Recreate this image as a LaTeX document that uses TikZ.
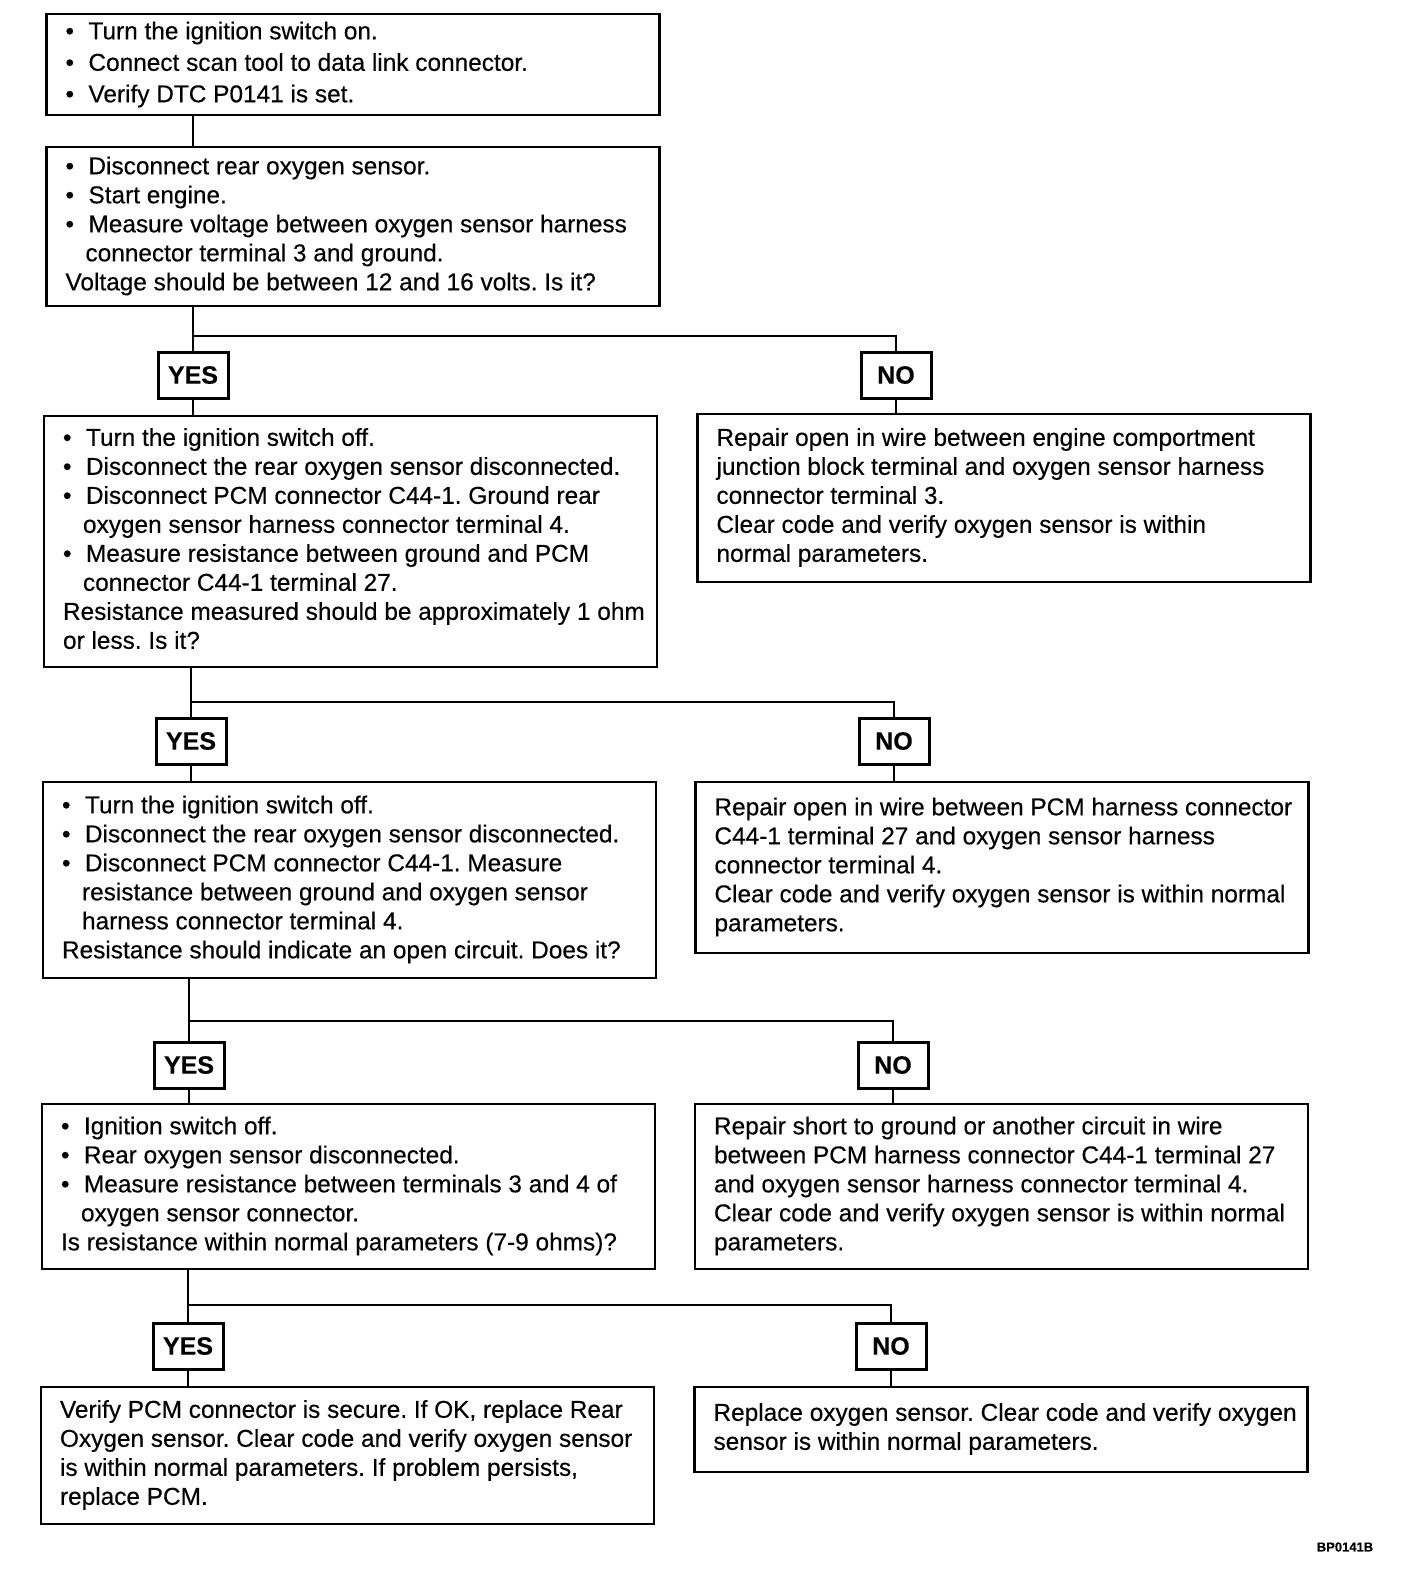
\documentclass[tikz,border=0pt]{standalone}
\usepackage{fontspec}
\setmainfont{Liberation Sans}[FakeBold=0.35]
\frenchspacing
\newcommand{\bu}{\makebox[11.5pt][l]{\textbullet}}
\newcommand{\ci}{\hspace*{10pt}}
\newcommand{\bx}[2][0pt]{\makebox[287.5pt][l]{\begin{tabular}{@{}l@{}}\rule{0pt}{\dimexpr0.7\baselineskip+#1\relax}#2\end{tabular}}}
\begin{document}
\begin{tikzpicture}[x=0.5pt,y=-0.5pt,
  box/.style={draw, line width=1.4pt, inner xsep=9.5pt, inner ysep=0pt,
    minimum width=306.5pt, align=left,
    font=\fontsize{12.2}{14.5}\selectfont},
  lab/.style={draw, line width=1.5pt, minimum width=35pt, minimum height=23pt,
    inner sep=0pt, font=\fontsize{12.5}{14}\selectfont\bfseries},
  conn/.style={line width=1.4pt}]
\useasboundingbox (0,0) rectangle (1408,1570);

% main column
\node[box, minimum height=50.5pt, font=\fontsize{12.2}{15.75}\selectfont] (b1) at (353,64.5)
 {\bx[2pt]{\bu Turn the ignition switch on.\\
  \bu Connect scan tool to data link connector.\\
  \bu Verify DTC P0141 is set.}};
\node[box, minimum height=79.5pt] (b2) at (353,226.5)
 {\bx[1pt]{\bu Disconnect rear oxygen sensor.\\
  \bu Start engine.\\
  \bu Measure voltage between oxygen sensor harness\\
  \ci connector terminal 3 and ground.\\
  Voltage should be between 12 and 16 volts. Is it?}};
\node[box, minimum height=125.5pt] (b3) at (350.5,541.5)
 {\bx[1pt]{\bu Turn the ignition switch off.\\
  \bu Disconnect the rear oxygen sensor disconnected.\\
  \bu Disconnect PCM connector C44-1. Ground rear\\
  \ci oxygen sensor harness connector terminal 4.\\
  \bu Measure resistance between ground and PCM\\
  \ci connector C44-1 terminal 27.\\
  Resistance measured should be approximately 1 ohm\\
  or less. Is it?}};
\node[box, minimum height=98pt] (b4) at (349.5,880)
 {\bx[1.5pt]{\bu Turn the ignition switch off.\\
  \bu Disconnect the rear oxygen sensor disconnected.\\
  \bu Disconnect PCM connector C44-1. Measure\\
  \ci resistance between ground and oxygen sensor\\
  \ci harness connector terminal 4.\\
  Resistance should indicate an open circuit. Does it?}};
\node[box, minimum height=82.5pt] (b5) at (348.5,1186.5)
 {\bx[2pt]{\bu Ignition switch off.\\
  \bu Rear oxygen sensor disconnected.\\
  \bu Measure resistance between terminals 3 and 4 of\\
  \ci oxygen sensor connector.\\
  Is resistance within normal parameters (7-9 ohms)?}};
\node[box, minimum height=68.5pt] (b6) at (347.5,1455.5)
 {\bx[5pt]{Verify PCM connector is secure. If OK, replace Rear\\
  Oxygen sensor. Clear code and verify oxygen sensor\\
  is within normal parameters. If problem persists,\\
  replace PCM.}};

% NO results
\node[box, minimum height=84pt] (n1) at (1004,498)
 {\bx[1.5pt]{Repair open in wire between engine comportment\\
  junction block terminal and oxygen sensor harness\\
  connector terminal 3.\\
  Clear code and verify oxygen sensor is within\\
  normal parameters.}};
\node[box, minimum height=85.5pt] (n2) at (1002,867.5)
 {\bx[2pt]{Repair open in wire between PCM harness connector\\
  C44-1 terminal 27 and oxygen sensor harness\\
  connector terminal 4.\\
  Clear code and verify oxygen sensor is within normal\\
  parameters.}};
\node[box, minimum height=82.5pt] (n3) at (1001.5,1186.5)
 {\bx[5pt]{Repair short to ground or another circuit in wire\\
  between PCM harness connector C44-1 terminal 27\\
  and oxygen sensor harness connector terminal 4.\\
  Clear code and verify oxygen sensor is within normal\\
  parameters.}};
\node[box, minimum height=42.5pt] (n4) at (1001,1429.5)
 {\bx[2pt]{Replace oxygen sensor. Clear code and verify oxygen\\
  sensor is within normal parameters.}};

% YES / NO labels
\node[lab] (y1) at (193,375) {YES};
\node[lab] (o1) at (896,375) {NO};
\node[lab] (y2) at (191,741) {YES};
\node[lab] (o2) at (894,741) {NO};
\node[lab] (y3) at (189,1065) {YES};
\node[lab] (o3) at (893,1065) {NO};
\node[lab] (y4) at (188,1346) {YES};
\node[lab] (o4) at (891,1346) {NO};

\coordinate (j1) at (193,336);
\coordinate (j2) at (191,702);
\coordinate (j3) at (189,1021);
\coordinate (j4) at (188,1305);

% connectors
\draw[conn] (b1.south -| y1) -- (b2.north -| y1);
\draw[conn] (b2.south -| y1) -- (y1.north);
\draw[conn] (j1) -| (o1.north);
\draw[conn] (y1.south) -- (b3.north -| y1);
\draw[conn] (o1.south) -- (n1.north -| o1);

\draw[conn] (b3.south -| y2) -- (y2.north);
\draw[conn] (j2) -| (o2.north);
\draw[conn] (y2.south) -- (b4.north -| y2);
\draw[conn] (o2.south) -- (n2.north -| o2);

\draw[conn] (b4.south -| y3) -- (y3.north);
\draw[conn] (j3) -| (o3.north);
\draw[conn] (y3.south) -- (b5.north -| y3);
\draw[conn] (o3.south) -- (n3.north -| o3);

\draw[conn] (b5.south -| y4) -- (y4.north);
\draw[conn] (j4) -| (o4.north);
\draw[conn] (y4.south) -- (b6.north -| y4);
\draw[conn] (o4.south) -- (n4.north -| o4);

\node[font=\fontsize{6.5}{7}\selectfont\bfseries] (code) at (1345,1547) {BP0141B};
\end{tikzpicture}
\end{document}
